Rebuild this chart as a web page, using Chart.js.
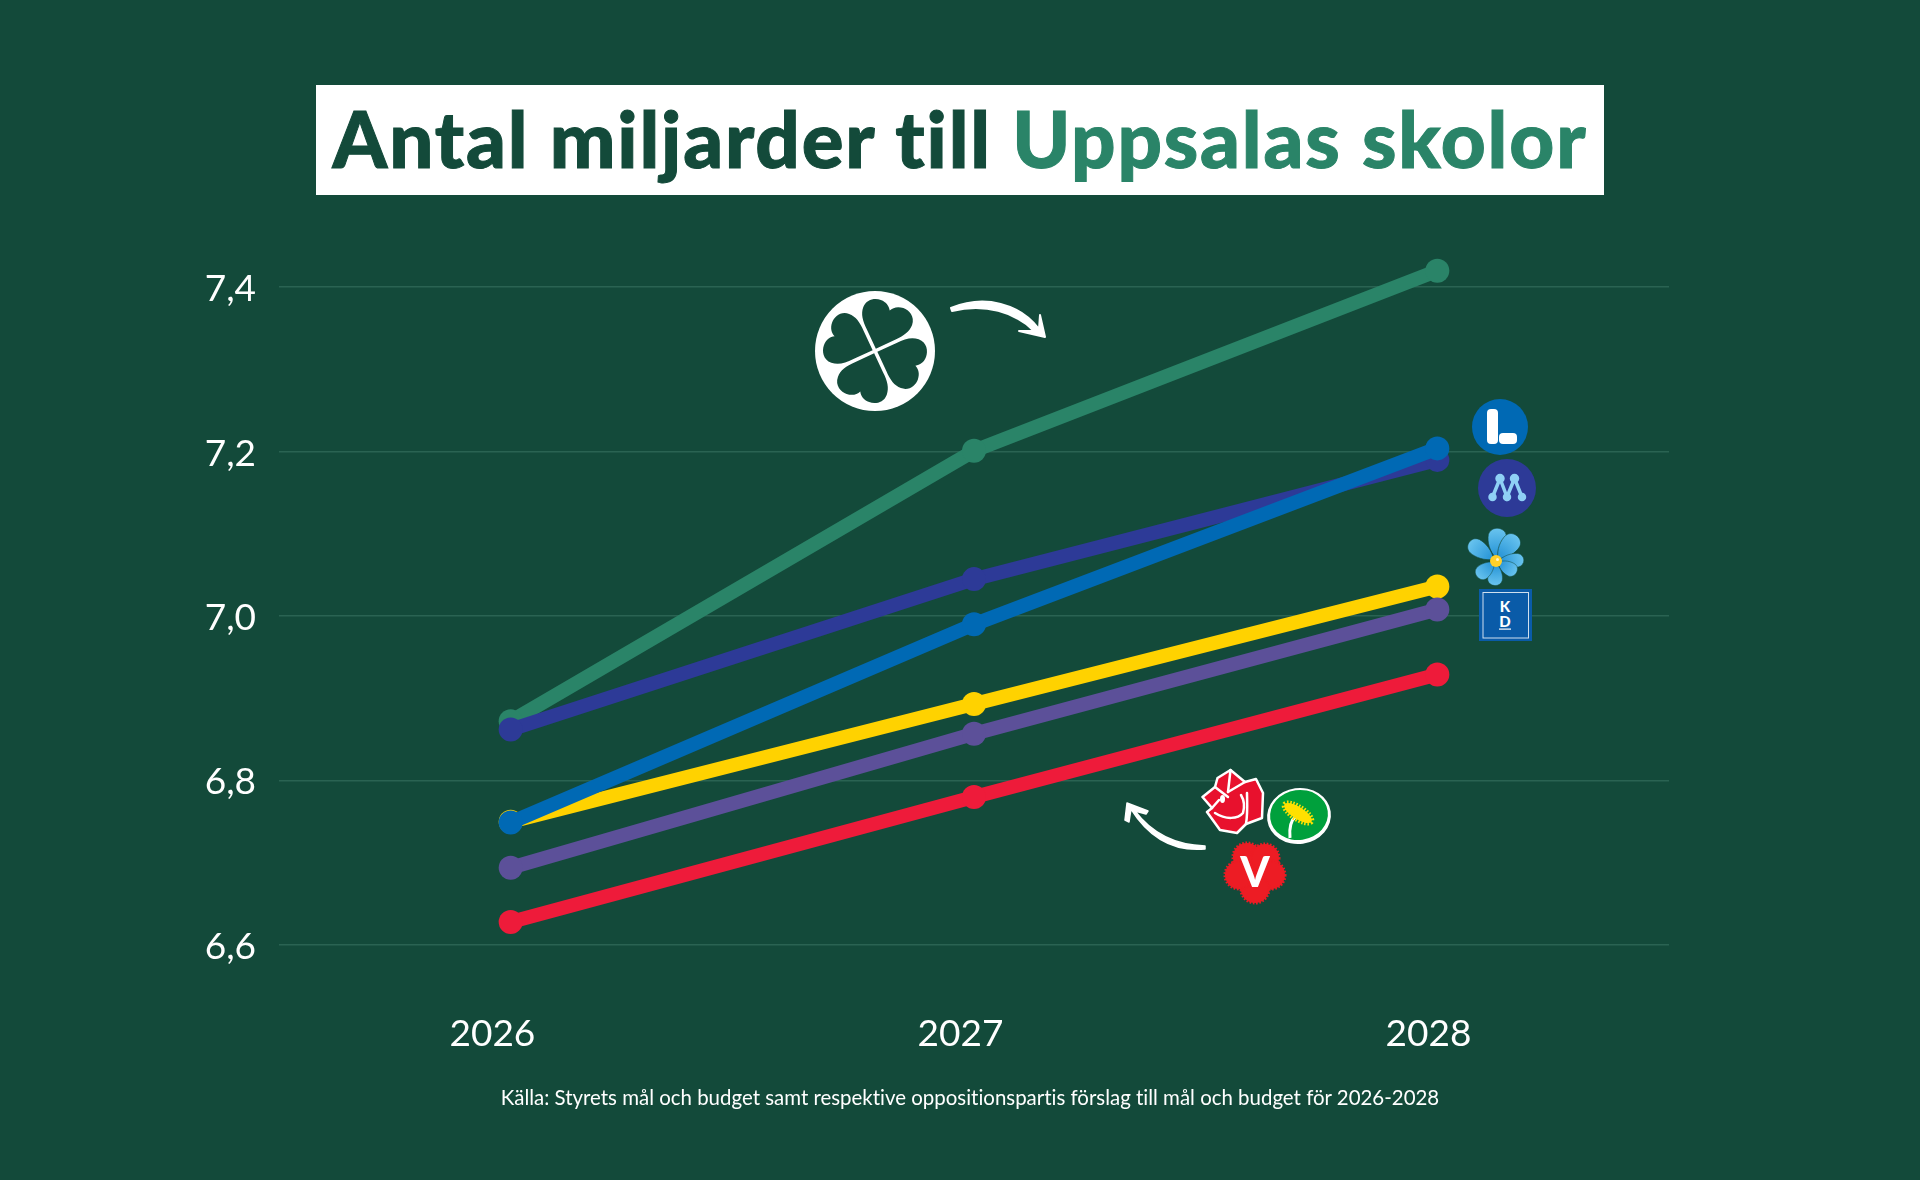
<!DOCTYPE html>
<html lang="sv">
<head>
<meta charset="utf-8">
<title>Antal miljarder till Uppsalas skolor</title>
<script src="https://cdn.jsdelivr.net/npm/chart.js@4"></script>
<style>
    html, body { margin: 0; padding: 0; background: #134a3a; }
    #page { position: relative; width: 1920px; height: 1180px; overflow: hidden; background: #134a3a; font-family: Lato, sans-serif; }
    #Chart { position: absolute; left: 0; top: 0; }
    #title { position: absolute; left: 316px; top: 85px; width: 1288px; height: 110px; background: #fff; text-align: center; font-size: 78px; line-height: 107px; letter-spacing: 1.83px; font-weight: 900; color: #134a3a; -webkit-text-stroke: 1px currentColor; white-space: nowrap; font-variant-ligatures: none; }
    #title span { color: #2a8468; }
    #source { position: absolute; left: 0; width: 1940px; top: 1085px; text-align: center; font-size: 20.45px; line-height: 24px; color: #fff; white-space: nowrap; font-variant-ligatures: none; }
    #logos { position: absolute; left: 0; top: 0; }
</style>
</head>
<body>
<div id="page">
    <canvas id="Chart" width="1920" height="1180"></canvas>
    <div id="title">Antal miljarder till <span>Uppsalas skolor</span></div>
    <div id="source">Källa: Styrets mål och budget samt respektive oppositionspartis förslag till mål och budget för 2026-2028</div>
    <svg id="logos" width="1920" height="1180" viewBox="0 0 1920 1180">
        <defs>
            <radialGradient id="petalFill" cx="0" cy="0" r="34" gradientUnits="userSpaceOnUse">
                <stop offset="0.2" stop-color="#2b97d8"/>
                <stop offset="1" stop-color="#6cc6f0"/>
            </radialGradient>
            <path id="petal" d="M3 0 C9 -7 19 -10 26 -9 C35 -7 35 7 26 9 C19 10 9 7 3 0Z" stroke="#134a3a" stroke-width=".6"/>
        </defs>
        <!-- klöver -->
        <circle cx="875" cy="351" r="60" fill="#fff"/>
        <g fill="#134a3a" transform="translate(875 351) rotate(20)">
            <path id="leaf" d="M0 -2.5 L-15 -17.5 C-22 -24 -26 -30 -26 -37 C-26 -46 -18 -50 -12 -50 C-6 -50 -2 -47 0 -43 C2 -47 6 -50 12 -50 C18 -50 26 -46 26 -37 C26 -30 22 -24 15 -17.5Z"/>
            <use href="#leaf" transform="rotate(90)"/>
            <use href="#leaf" transform="rotate(180)"/>
            <use href="#leaf" transform="rotate(270)"/>
        </g>
        <path d="M951 308 C985 294 1020 304 1039 329 L1040 315 L1045 337 L1019 331 L1034 331 C1015 312 985 303 952 311Z" fill="#fff" stroke="#fff" stroke-width="2" stroke-linejoin="round"/>
        <!-- L -->
        <circle cx="1500" cy="427" r="28" fill="#0069b4"/>
        <rect x="1487" y="409" width="11" height="35" rx="4" fill="#fff"/>
        <rect x="1499" y="433" width="18" height="11" rx="4" fill="#fff"/>
        <!-- M -->
        <circle cx="1507" cy="488" r="29" fill="#2d3a97"/>
        <g stroke="#8fd0f5" stroke-width="3.5" fill="#8fd0f5">
            <path d="M1492.5 497 L1500 478.5 L1507 497 L1514.5 478.5 L1522 497" fill="none"/>
            <circle cx="1500" cy="478.5" r="3"/>
            <circle cx="1514.5" cy="478.5" r="3"/>
            <circle cx="1492.5" cy="497" r="2.5"/>
            <circle cx="1507" cy="497" r="2.5"/>
            <circle cx="1522" cy="497" r="2.5"/>
        </g>
        <!-- SD -->
        <g fill="url(#petalFill)" transform="translate(1496 561)">
            <use href="#petal" transform="rotate(-87) scale(1 1)"/>
            <use href="#petal" transform="rotate(-50) scale(1 1)"/>
            <use href="#petal" transform="rotate(-2) scale(.85 .75)"/>
            <use href="#petal" transform="rotate(30) scale(.72 .75)"/>
            <use href="#petal" transform="rotate(93) scale(.75 .8)"/>
            <use href="#petal" transform="rotate(140) scale(.75 .8)"/>
            <use href="#petal" transform="rotate(-145) scale(1 .9)"/>
            <circle r="6" fill="#ffd02a"/>
            <circle cx="1.5" cy="-1.5" r="1.5" fill="#fff6c8"/>
        </g>
        <!-- KD -->
        <rect x="1479" y="589" width="53" height="52" fill="#0a5ba8"/>
        <rect x="1483" y="592.5" width="45.5" height="45.5" fill="none" stroke="#cfe0ef" stroke-width="1"/>
        <text x="1505" y="612" fill="#fff" font-family="Lato" font-weight="900" font-size="15" text-anchor="middle">K</text>
        <text x="1505" y="627" fill="#fff" font-family="Lato" font-weight="900" font-size="15" text-anchor="middle">D</text>
        <rect x="1499" y="628.5" width="12" height="1.2" fill="#fff"/>
        <!-- S -->
        <path d="M1202.5 797 L1215 787 L1217.5 778 L1230.5 770 L1245 782 L1256 779 L1263 793 L1262 818 L1246 824 L1237 833 L1220 830 L1207 812 L1212 808Z" fill="#e8112d" stroke="#fff" stroke-width="2.5" stroke-linejoin="round"/>
        <g fill="none" stroke="#fff" stroke-width="2.5" stroke-linecap="round">
            <path d="M1215 813 C1226 820 1238 819 1243 813 C1245 806 1244 800 1241 795"/>
            <path d="M1230.5 770 L1228 792"/>
            <path d="M1228 792 L1245 782"/>
            <path d="M1215 787 L1228 797"/>
            <path d="M1246 824 C1248 812 1247 800 1247 793"/>
            <path d="M1212 808 L1219 800"/>
        </g>
        <ellipse cx="1222.5" cy="799" rx="2.5" ry="4" fill="#fff"/>
        <!-- MP -->
        <ellipse cx="1299" cy="816" rx="32" ry="28" fill="#fff" transform="rotate(-8 1299 816)"/>
        <ellipse cx="1299" cy="815" rx="29" ry="25" fill="#00a03c" transform="rotate(-8 1299 815)"/>
        <path d="M1290 838 C1289 828 1290 821 1296 816" fill="none" stroke="#fff" stroke-width="3"/>
        <ellipse cx="1298" cy="813" rx="16" ry="6" fill="#ffe000" stroke="#ffe000" stroke-width="5" stroke-dasharray="1.5 1.5" transform="rotate(33 1298 813)"/>
        <!-- V -->
        <g fill="#ed1c24" stroke="#ed1c24" stroke-width="3" stroke-dasharray="1.6 1.6" transform="translate(1255 873)">
            <circle r="22"/>
            <circle cx="-8" cy="-16" r="14"/>
            <circle cx="10" cy="-15" r="14"/>
            <circle cx="16" cy="2" r="14"/>
            <circle cx="0" cy="16" r="14"/>
            <circle cx="-16" cy="2" r="14"/>
            <text y="14" fill="#fff" stroke="none" font-family="Lato" font-weight="900" font-size="42" text-anchor="middle">V</text>
        </g>
        <path d="M1205 849 C1172 852 1148 836 1131 809 L1129 822 L1125 820 L1127 803 L1148 811 L1146 814 L1135 811 C1150 831 1172 845 1205 846Z" fill="#fff" stroke="#fff" stroke-width="1.5" stroke-linejoin="round"/>
    </svg>
</div>
<script>
    var years = ['2026', '2027', '2028'];
    var yearTicks = [2026, 2027, 2028];
    var yTicks = [6.6, 6.8, 7.0, 7.2, 7.4];

    // miljarder kr
    var centerValues = [6.872, 7.201, 7.42];
    var moderaterValues = [6.862, 7.045, 7.19];
    var liberalerValues = [6.749, 6.99, 7.204];
    var sdValues = [6.75, 6.893, 7.036];
    var kdValues = [6.694, 6.857, 7.008];
    var redValues = [6.628, 6.78, 6.929];

    var colors = {
        center: '#2a8468',
        moderater: '#2d3a97',
        liberaler: '#0069b4',
        sd: '#ffd200',
        kd: '#5c5099',
        red: '#ee1b3a'
    };

    function line(label, data, color, order) {
        return {
            label: label,
            data: data,
            order: order,
            xAxisID: 'x',
            borderColor: color,
            backgroundColor: color,
            borderWidth: 14,
            pointRadius: 12,
            pointHoverRadius: 12,
            pointBorderWidth: 0,
            tension: 0
        };
    }

    var fontFamily = 'Lato, sans-serif';

    new Chart(document.getElementById('Chart').getContext('2d'), {
        type: 'line',
        data: {
            labels: years,
            // lower order is drawn on top
            datasets: [
                line('Centerpartiet', centerValues, colors.center, 6),
                line('Moderaterna', moderaterValues, colors.moderater, 5),
                line('Sverigedemokraterna', sdValues, colors.sd, 4),
                line('Kristdemokraterna', kdValues, colors.kd, 3),
                line('S, V, MP', redValues, colors.red, 2),
                line('Liberalerna', liberalerValues, colors.liberaler, 1)
            ]
        },
        options: {
            responsive: false,
            animation: false,
            layout: { padding: { left: 0, right: 251, top: 205, bottom: 0 } },
            plugins: { legend: { display: false }, tooltip: { enabled: false }, title: { display: false } },
            scales: {
                x: {
                    type: 'category',
                    offset: true,
                    display: false
                },
                // year labels sit a little left of the points in the original
                yearAxis: {
                    type: 'linear',
                    position: 'bottom',
                    min: 2025.544,
                    max: 2028.514,
                    afterBuildTicks: function (scale) {
                        scale.ticks = yearTicks.map(function (v) { return { value: v }; });
                    },
                    afterFit: function (scale) { scale.height = 235; },
                    grid: { display: false },
                    border: { display: false },
                    ticks: {
                        color: '#fff',
                        padding: 59,
                        maxRotation: 0,
                        autoSkip: false,
                        font: { family: fontFamily, size: 37 },
                        callback: function (value) { return String(value); }
                    }
                },
                y: {
                    type: 'linear',
                    min: 6.6,
                    max: 7.5,
                    afterBuildTicks: function (scale) {
                        scale.ticks = yTicks.map(function (v) { return { value: v }; });
                    },
                    afterFit: function (scale) { scale.width = 279; },
                    grid: { color: '#2a6352', lineWidth: 1.5, drawTicks: false },
                    border: { display: false },
                    ticks: {
                        color: '#fff',
                        padding: 23,
                        labelOffset: 2,
                        font: { family: fontFamily, size: 37 },
                        callback: function (value) { return value.toFixed(1).replace('.', ','); }
                    }
                }
            }
        }
    });
</script>
</body>
</html>
